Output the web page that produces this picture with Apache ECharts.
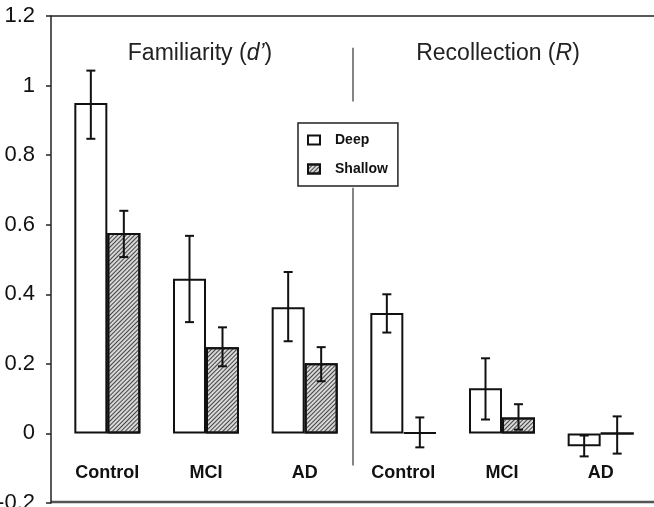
<!DOCTYPE html>
<html>
<head>
<meta charset="utf-8">
<script src="https://cdn.jsdelivr.net/npm/echarts@6/dist/echarts.min.js"></script>
<style>
html, body { margin: 0; padding: 0; background: #fff; }
#chart { width: 654px; height: 507px; }
</style>
</head>
<body>
<div id="chart"></div>
<script>
// values
var groups = ['Control', 'MCI', 'AD', 'Control', 'MCI', 'AD'];
var deep = [0.95, 0.445, 0.363, 0.346, 0.13, -0.037];
var shallow = [0.576, 0.248, 0.202, 0.003, 0.046, 0];
var deepLow = [0.847, 0.32, 0.265, 0.29, 0.04, -0.066];
var deepHigh = [1.043, 0.568, 0.464, 0.40, 0.216, -0.006];
var shallowLow = [0.507, 0.193, 0.15, -0.04, 0.011, -0.058];
var shallowHigh = [0.64, 0.305, 0.248, 0.046, 0.084, 0.049];
var yTicks = [-0.2, 0, 0.2, 0.4, 0.6, 0.8, 1, 1.2];
var panelNames = ['Familiarity', 'Recollection'];
var panelSymbols = ["d\u2019", 'R'];

var FONT = '"Liberation Sans", Arial, sans-serif';
var BAR_W = 33;

var myChart = echarts.init(document.getElementById('chart'));

function errorItem(shift) {
  return function (params, api) {
    var lo = api.coord([api.value(0), api.value(1)]);
    var hi = api.coord([api.value(0), api.value(2)]);
    var x = lo[0] + shift;
    var st = { stroke: '#111', lineWidth: 2 };
    return {
      type: 'group',
      children: [
        { type: 'line', shape: { x1: x, y1: hi[1], x2: x, y2: lo[1] }, style: st },
        { type: 'line', shape: { x1: x - 4.5, y1: hi[1], x2: x + 4.5, y2: hi[1] }, style: st },
        { type: 'line', shape: { x1: x - 4.5, y1: lo[1], x2: x + 4.5, y2: lo[1] }, style: st }
      ]
    };
  };
}

myChart.setOption({
  animation: false,
  backgroundColor: '#fff',
  textStyle: { fontFamily: FONT },
  grid: { left: 58, right: 4, top: 16, bottom: 4, outerBoundsMode: 'none', containLabel: false },
  legend: {
    orient: 'vertical',
    left: 298,
    top: 123,
    padding: [10, 10, 10, 9],
    itemGap: 15,
    itemWidth: 12,
    itemHeight: 9,
    icon: 'rect',
    backgroundColor: '#fff',
    borderColor: '#222',
    borderWidth: 1.5,
    textStyle: { fontFamily: FONT, fontWeight: 'bold', fontSize: 14, color: '#111', padding: [0, 0, 0, 10] },
    data: ['Deep', 'Shallow']
  },
  xAxis: {
    type: 'category',
    data: groups,
    axisLine: { show: false },
    axisTick: { show: false },
    axisLabel: {
      inside: true,
      margin: 21,
      fontFamily: FONT,
      fontWeight: 'bold',
      fontSize: 18,
      color: '#111'
    }
  },
  yAxis: {
    type: 'value',
    min: yTicks[0],
    max: yTicks[yTicks.length - 1],
    interval: 0.2,
    offset: 7,
    splitLine: { show: false },
    axisLine: { show: true, lineStyle: { color: '#222', width: 1.5 } },
    axisTick: { show: true, length: 5, lineStyle: { color: '#222', width: 1.5 } },
    axisLabel: { margin: 16, fontFamily: FONT, fontSize: 22, color: '#111' }
  },
  series: [
    {
      name: 'Deep',
      type: 'bar',
      data: deep,
      barWidth: BAR_W,
      barGap: '0%',
      itemStyle: { color: '#fff', borderColor: '#111', borderWidth: 2 }
    },
    {
      name: 'Shallow',
      type: 'bar',
      data: shallow,
      barWidth: BAR_W,
      itemStyle: {
        color: '#d8d8d8',
        borderColor: '#111',
        borderWidth: 2,
        decal: {
          symbol: 'rect',
          symbolSize: 1,
          color: '#444',
          dashArrayX: [1, 0],
          dashArrayY: [1, 2],
          rotation: -Math.PI / 4
        }
      }
    },
    {
      type: 'custom',
      renderItem: errorItem(-BAR_W / 2),
      encode: { x: 0, y: [1, 2] },
      z: 5,
      data: groups.map(function (g, i) { return [i, deepLow[i], deepHigh[i]]; })
    },
    {
      type: 'custom',
      renderItem: errorItem(BAR_W / 2),
      encode: { x: 0, y: [1, 2] },
      z: 5,
      data: groups.map(function (g, i) { return [i, shallowLow[i], shallowHigh[i]]; })
    }
  ]
});

// frame, divider and panel headings placed from the axes
var yPix = function (v) { return myChart.convertToPixel({ yAxisIndex: 0 }, v); };
var xPix = function (i) { return myChart.convertToPixel({ xAxisIndex: 0 }, i); };
var frameTop = yPix(yTicks[yTicks.length - 1]);
var frameBottom = yPix(yTicks[0]);
var axisX = 51;
var divX = Math.round((xPix(2) + xPix(3)) / 2) - 1;

function heading(i, cx) {
  return {
    type: 'text',
    x: cx,
    y: 54,
    style: {
      text: '{n|' + panelNames[i] + ' (}{i|' + panelSymbols[i] + '}{n|)}',
      align: 'center',
      verticalAlign: 'middle',
      rich: {
        n: { fontFamily: FONT, fontSize: 23, fill: '#222' },
        i: { fontFamily: FONT, fontSize: 23, fontStyle: 'italic', fill: '#222' }
      }
    }
  };
}

myChart.setOption({
  graphic: [
    { type: 'line', shape: { x1: axisX, y1: frameTop, x2: 654, y2: frameTop }, style: { stroke: '#222', lineWidth: 1.5 } },
    { type: 'line', shape: { x1: axisX, y1: frameBottom - 1, x2: 654, y2: frameBottom - 1 }, style: { stroke: '#555', lineWidth: 2.5 } },
    { type: 'line', shape: { x1: divX, y1: yPix(1.109), x2: divX, y2: yPix(0.954) }, style: { stroke: '#333', lineWidth: 1.2 } },
    { type: 'line', shape: { x1: divX, y1: yPix(0.706), x2: divX, y2: yPix(-0.092) }, style: { stroke: '#333', lineWidth: 1.2 } },
    heading(0, xPix(1) - 6),
    heading(1, xPix(4) - 4)
  ]
});

window.onresize = function () {
  myChart.resize();
};
</script>
</body>
</html>
